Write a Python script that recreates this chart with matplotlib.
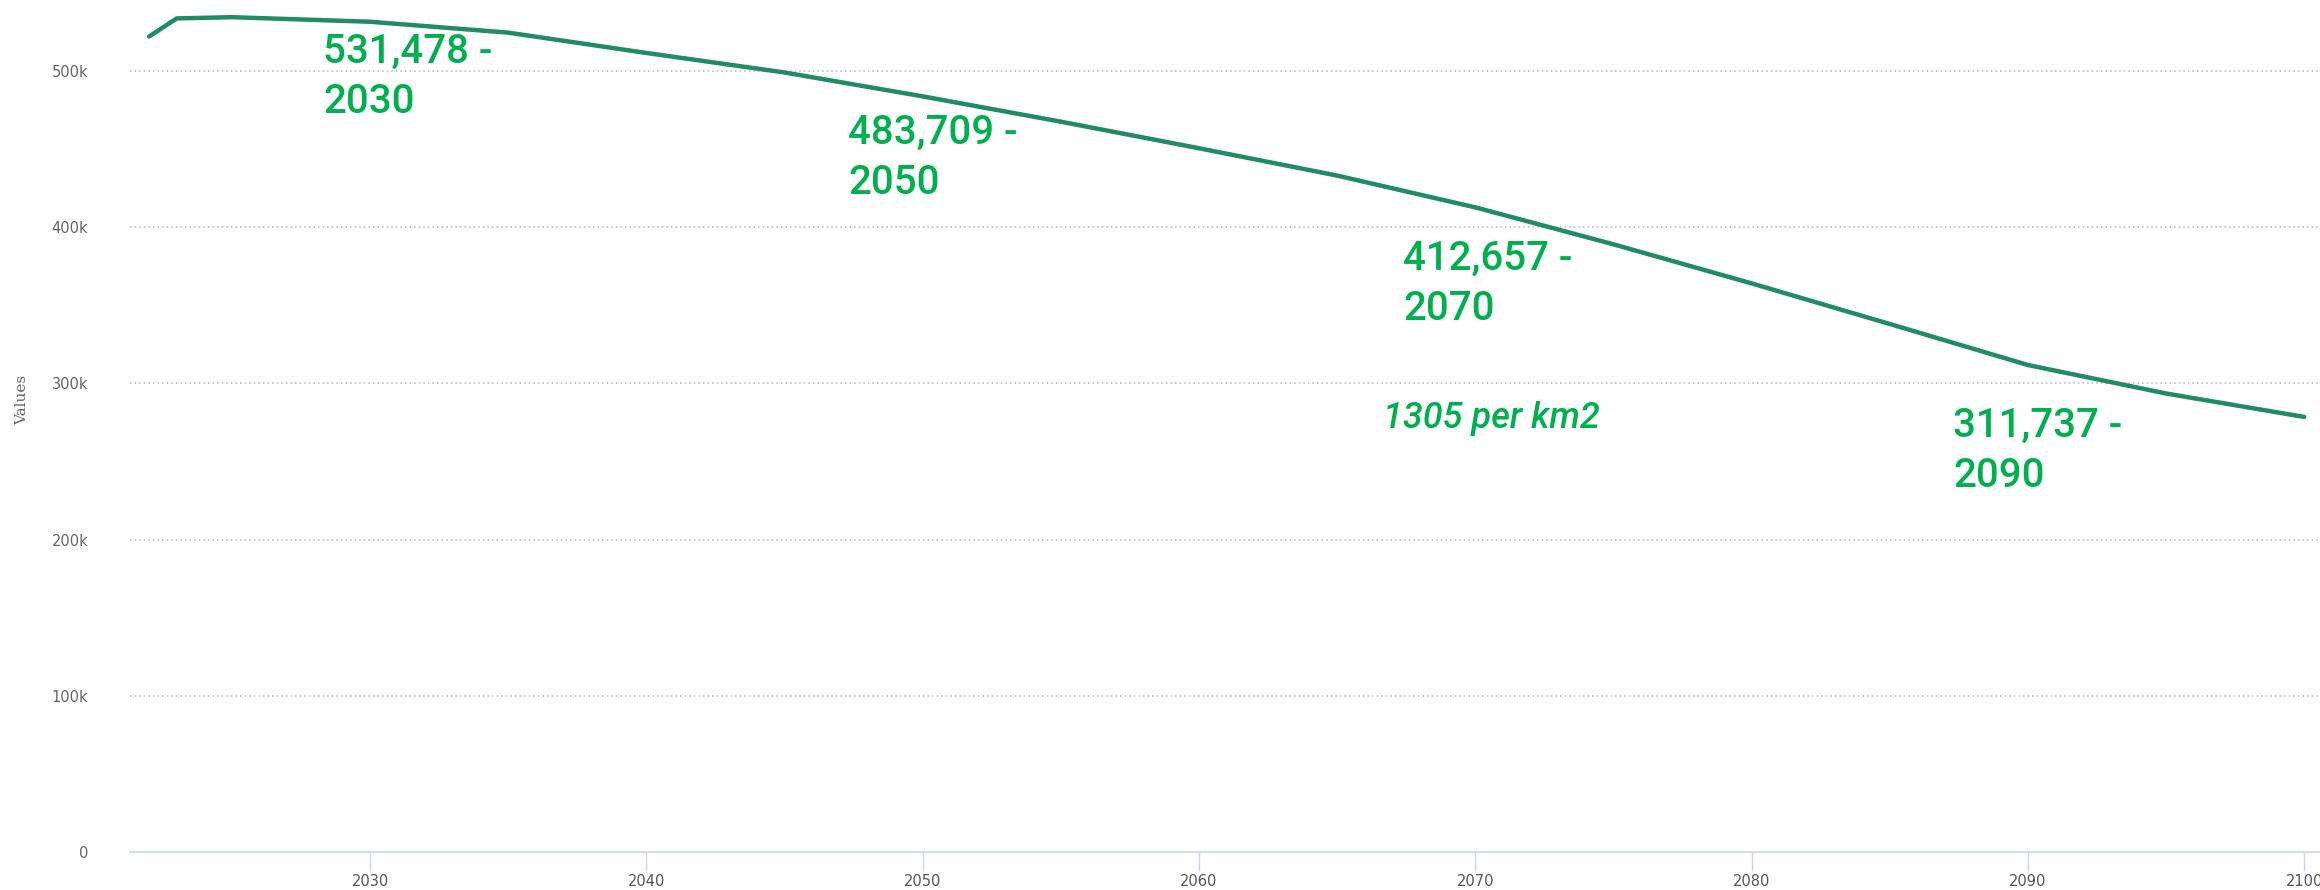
import matplotlib
matplotlib.use("Agg")
import matplotlib.pyplot as plt
from matplotlib.ticker import FuncFormatter

# ---- data ----
years = [2022, 2023, 2025, 2030, 2035, 2040, 2045, 2050, 2055, 2060, 2065,
         2070, 2075, 2080, 2085, 2090, 2095, 2100]
population = [522000, 533600, 534400, 531478, 524500, 511500, 499000, 483709,
              467500, 450500, 433000, 412657, 389000, 364000, 338000, 311737,
              293500, 278500]
y_ticks = [0, 100000, 200000, 300000, 400000, 500000]
x_ticks = [2030, 2040, 2050, 2060, 2070, 2080, 2090, 2100]
annotations = ["531,478 -\n2030", "483,709 -\n2050", "412,657 -\n2070", "311,737 -\n2090"]
density_note = "1305 per km2"

W, H = 2320, 890
fig = plt.figure(figsize=(W / 100, H / 100), dpi=100)
fig.patch.set_facecolor("white")

ax_left, ax_bottom = 130 / W, (H - 852) / H
ax = fig.add_axes([ax_left, ax_bottom, 1 - ax_left, 1 - ax_bottom])
ax.set_facecolor("white")

ax.plot(years, population, color="#1f8c63", lw=3.2, solid_capstyle="round",
        solid_joinstyle="round", zorder=3)

ax.set_xlim(2021.31, 2100.57)
ax.set_ylim(0, 545400)

ax.set_yticks(y_ticks)
ax.yaxis.set_major_formatter(FuncFormatter(lambda v, p: "0" if v == 0 else f"{int(v/1000)}k"))
ax.set_xticks(x_ticks)

for s in ["top", "right", "left"]:
    ax.spines[s].set_visible(False)
ax.spines["bottom"].set_color("#ccd6eb")
ax.spines["bottom"].set_linewidth(1.2)

ax.tick_params(axis="y", length=0, pad=30, labelsize=10.5, labelcolor="#666666")
ax.tick_params(axis="x", length=14, width=1, color="#ccd6eb", pad=2,
               labelsize=10.5, labelcolor="#555555")

ax.yaxis.grid(True, linestyle=(0, (1, 2)), color="#b5b5b5", lw=1.1)
ax.set_axisbelow(True)
ax.get_ygridlines()[0].set_visible(False)

green = "#00b04f"
# (left x px, centre y px of first line) in figure pixels
ann_pos = [(323, 49), (848, 130), (1403, 256), (1953, 423)]
line_gap = 50
for txt, (px, py) in zip(annotations, ann_pos):
    for i, line in enumerate(txt.split("\n")):
        base = py + i * line_gap + 14
        fig.text(px / W, 1 - base / H, line, color=green, fontsize=29,
                 family="Roboto", fontweight="medium", ha="left", va="baseline")

fig.text(1383 / W, 1 - (416 + 12) / H, density_note, color=green, fontsize=26,
         family="Roboto", style="italic", fontweight="medium", ha="left", va="baseline")

fig.text(22 / W, 1 - 400 / H, "Values", rotation=90, fontsize=11,
         family="DejaVu Serif", color="#666666", ha="center", va="center")

fig.savefig("out.png", dpi=100, facecolor="white")
